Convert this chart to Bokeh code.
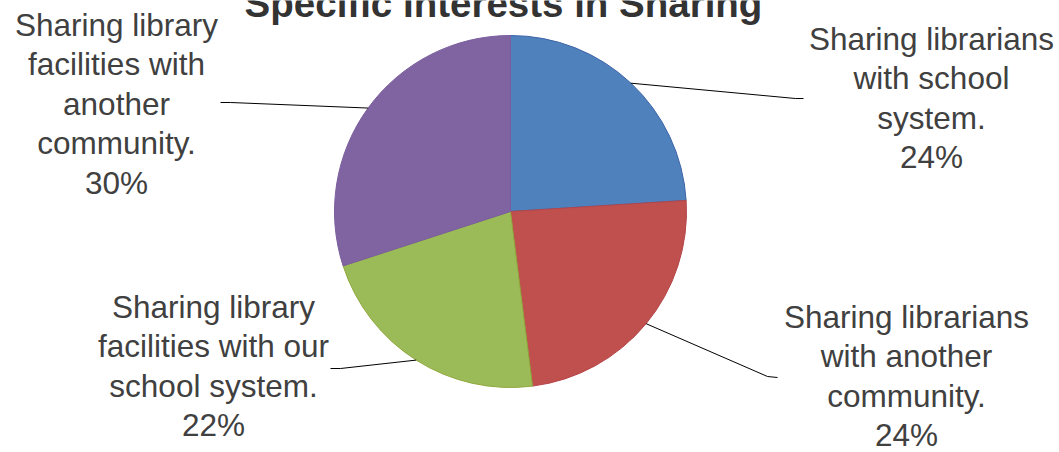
import math
from bokeh.plotting import figure
from bokeh.models import Range1d
from bokeh.core.properties import value
from bokeh.embed import file_html
from bokeh.resources import INLINE

# ---- data ----
title = "Specific Interests in Sharing"
categories = [
    "Sharing librarians with school system.",
    "Sharing librarians with another community.",
    "Sharing library facilities with our school system.",
    "Sharing library facilities with another community.",
]
percents = [24, 24, 22, 30]
label_lines = [
    ["Sharing librarians", "with school", "system."],
    ["Sharing librarians", "with another", "community."],
    ["Sharing library", "facilities with our", "school system."],
    ["Sharing library", "facilities with", "another", "community."],
]
colors = ["#4F81BD", "#C0504D", "#9BBB59", "#8064A2"]
edge_colors = ["#3C64A8", "#B5454A", "#8FA63A", "#7A5E9C"]

# ---- layout (image pixel coordinates; data y = H - image y) ----
W, H = 1059, 452
cx, cy, R = 510, H - 211, 176
label_pos = [(931, 50), (906, 328), (213, 318), (116, 36)]
line_step = 39.5
baseline_fix = 12      # renderer places alphabetic baseline lower
title_fix = 14
leader_elbow = [(795, 98), (767, 376), (340, 368), (230, 102)]
leader_end = [(803, 98), (777, 377), (330, 368), (220, 102)]

p = figure(width=W, height=H, output_backend="svg", toolbar_location=None,
           x_range=Range1d(0, W), y_range=Range1d(0, H),
           min_border=0, min_border_left=0, min_border_right=0,
           min_border_top=0, min_border_bottom=0)
p.axis.visible = False
p.grid.visible = False
p.outline_line_color = None
p.background_fill_color = "white"
p.border_fill_color = "white"

total = float(sum(percents))
start = 90.0
font = value("Liberation Sans")
for i, pct in enumerate(percents):
    sweep = pct / total * 360.0
    end = start - sweep
    p.wedge(x=[cx], y=[cy], radius=R, start_angle=[math.radians(start)],
            end_angle=[math.radians(end)], direction="clock",
            fill_color=colors[i], line_color=edge_colors[i], line_width=1)
    mid = math.radians((start + end) / 2.0)
    sx = cx + R * math.cos(mid)
    sy = cy + R * math.sin(mid)
    ex1, ey1 = leader_elbow[i]
    ex2, ey2 = leader_end[i]
    p.line(x=[sx, ex1, ex2], y=[sy, H - ey1, H - ey2], line_color="#000000", line_width=1)
    lines = label_lines[i] + [f"{pct}%"]
    lx, ly = label_pos[i]
    p.text(x=[lx] * len(lines),
           y=[H - (ly - baseline_fix + k * line_step) for k in range(len(lines))],
           text=lines, text_align="center", text_baseline="alphabetic",
           text_font=font, text_font_size=value("31.5px"), text_color="#404040")
    start = end

p.text(x=[503], y=[H - (17 - title_fix)], text=[title], text_align="center",
       text_baseline="alphabetic", text_font=font, text_font_size=value("38.5px"),
       text_font_style="bold", text_color="#333333")

open("out.html", "w").write(file_html(p, INLINE))
